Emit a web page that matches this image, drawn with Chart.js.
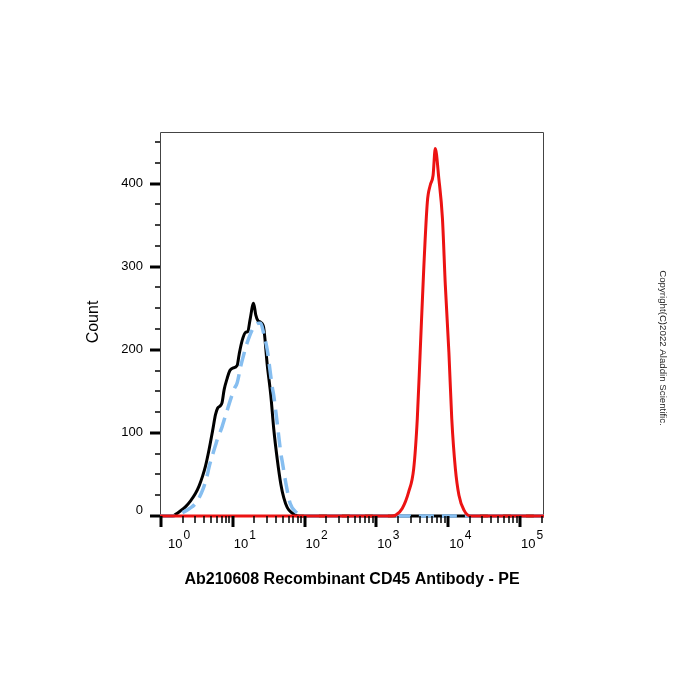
<!DOCTYPE html>
<html>
<head>
<meta charset="utf-8">
<script src="https://cdn.jsdelivr.net/npm/chart.js@4.4.1/dist/chart.umd.min.js"></script>
<style>
  html, body { margin: 0; padding: 0; background: #fff; }
  #wrap { width: 700px; height: 700px; }
</style>
</head>
<body>
<div id="wrap"><canvas id="chart" width="700" height="700"></canvas></div>
<script>
// Histogram data (x = fluorescence, y = count)
const blackX = [0.97, 1.45, 1.6, 1.86, 2.19, 2.57, 3.02, 3.39, 3.8, 4.17, 4.68, 5.25, 5.75, 6.17, 6.61, 7.08, 7.59, 8.32, 9.12, 10.0, 11.5, 12.3, 13.5, 15.1, 16.2, 17.4, 19.5, 20.9, 22.4, 24.5, 26.9, 30.2, 33.9, 37.2, 41.7, 46.8, 51.3, 57.5, 66.1, 74.1, 83.2, 216000];
const blackY = [0, 0, 2, 6, 11, 18, 27, 36, 48, 60, 80, 103, 122, 130, 132, 136, 152, 165, 175, 178, 181, 195, 211, 221, 222, 236, 256, 242, 235, 233, 227, 182, 145, 105, 68, 38, 22, 10, 4, 1, 0, 0];

const blueX = [0.97, 1.5, 2.0, 2.5, 3.02, 3.8, 4.47, 4.68, 5.75, 6.03, 7.08, 7.94, 10.5, 11.5, 12.9, 14.1, 15.8, 19.5, 22.9, 24.5, 26.9, 30.2, 35.5, 37.2, 41.7, 46.8, 49.0, 55.0, 63.1, 79.4, 89.1, 216000];
const blueY = [0, 0, 4, 9, 15, 31, 51, 59, 85, 91, 107, 121, 153, 160, 180, 193, 208, 227, 232, 232, 220, 200, 155, 145, 111, 75, 65, 39, 15, 3, 0, 0];

const redX = [0.97, 1620, 1862, 2291, 2818, 3311, 3715, 4074, 4571, 5129, 5623, 6166, 6607, 7413, 8318, 9120, 10233, 11220, 12589, 14125, 16596, 20417, 216000];
const redY = [0, 0, 1, 9, 29, 57, 117, 197, 298, 378, 398, 410, 442, 406, 358, 278, 197, 117, 57, 25, 7, 0, 0];

// Axis ticks
const xTickExponents = [0, 1, 2, 3, 4, 5];
const yTickLabels = [0, 100, 200, 300, 400];
const yMinorStep = 25;

const xTitle = 'Ab210608 Recombinant CD45 Antibody - PE';
const yTitle = 'Count';
const copyrightText = 'Copyright(C)2022 Aladdin Scientific.';

const fontFamily = '"Liberation Sans", Arial, Helvetica, sans-serif';

function toPoints(xs, ys) {
  return xs.map((x, i) => ({ x: x, y: ys[i] }));
}

// Frame, ticks and texts are drawn by hand (FlowJo style axes)
const flowAxes = {
  id: 'flowAxes',
  beforeDatasetsDraw(chart) {
    const ctx = chart.ctx;
    const a = chart.chartArea;
    ctx.save();
    ctx.strokeStyle = '#444';
    ctx.lineWidth = 1;
    ctx.beginPath();
    ctx.moveTo(a.left + 0.5, a.bottom);
    ctx.lineTo(a.left + 0.5, a.top + 0.5);
    ctx.lineTo(a.right - 0.5, a.top + 0.5);
    ctx.lineTo(a.right - 0.5, a.bottom);
    ctx.stroke();
    ctx.strokeStyle = '#000';
    ctx.lineWidth = 2;
    ctx.beginPath();
    ctx.moveTo(a.left, a.bottom);
    ctx.lineTo(a.right, a.bottom);
    ctx.stroke();
    ctx.restore();
  },
  afterDraw(chart) {
    const ctx = chart.ctx;
    const a = chart.chartArea;
    const xs = chart.scales.x;
    const ys = chart.scales.y;
    ctx.save();
    ctx.strokeStyle = '#000';
    ctx.fillStyle = '#000';

    // y ticks
    for (let v = 0; v <= ys.max; v += yMinorStep) {
      const py = Math.round(ys.getPixelForValue(v));
      const major = yTickLabels.indexOf(v) >= 0;
      ctx.lineWidth = major ? 3 : 1.5;
      ctx.beginPath();
      ctx.moveTo(a.left - (major ? 10 : 5), py);
      ctx.lineTo(a.left, py);
      ctx.stroke();
    }
    ctx.font = '13px ' + fontFamily;
    ctx.textAlign = 'right';
    ctx.textBaseline = 'middle';
    yTickLabels.forEach(v => {
      const py = Math.min(ys.getPixelForValue(v), a.bottom - 6);
      ctx.fillText(String(v), a.left - 17, py);
    });

    // x ticks (log decades + minors)
    xTickExponents.forEach(n => {
      for (let k = 1; k <= 9; k++) {
        const v = k * Math.pow(10, n);
        if (v < xs.min || v > xs.max) continue;
        const px = Math.round(xs.getPixelForValue(v));
        const major = k === 1;
        ctx.lineWidth = major ? 3 : 1.5;
        ctx.beginPath();
        ctx.moveTo(px, a.bottom);
        ctx.lineTo(px, a.bottom + (major ? 11 : 7));
        ctx.stroke();
      }
    });
    ctx.textAlign = 'left';
    ctx.textBaseline = 'alphabetic';
    xTickExponents.forEach(n => {
      const px = xs.getPixelForValue(Math.pow(10, n));
      const left = Math.max(px + 1, a.left + 8);
      ctx.font = '13px ' + fontFamily;
      ctx.fillText('10', left, a.bottom + 32);
      const w = ctx.measureText('10').width;
      ctx.font = '12px ' + fontFamily;
      ctx.fillText(String(n), left + w + 1, a.bottom + 23);
    });

    // axis titles
    ctx.font = 'bold 16px ' + fontFamily;
    ctx.textAlign = 'center';
    ctx.textBaseline = 'middle';
    ctx.fillText(xTitle, (a.left + a.right) / 2, 580);

    ctx.save();
    ctx.font = '16px ' + fontFamily;
    ctx.translate(94, (a.top + a.bottom) / 2 - 2);
    ctx.rotate(-Math.PI / 2);
    ctx.fillText(yTitle, 0, 0);
    ctx.restore();

    // copyright, rotated clockwise
    ctx.save();
    ctx.font = '9.7px ' + fontFamily;
    ctx.fillStyle = '#222';
    ctx.translate(663, 348);
    ctx.rotate(Math.PI / 2);
    ctx.fillText(copyrightText, 0, 0);
    ctx.restore();

    ctx.restore();
  }
};

const ctx = document.getElementById('chart').getContext('2d');

const data = {
  datasets: [
    {
      label: 'Isotype',
      data: toPoints(blackX, blackY),
      borderColor: '#000000',
      borderWidth: 3,
      order: 2
    },
    {
      label: 'Unstained',
      data: toPoints(blueX, blueY),
      borderColor: '#86bef0',
      borderWidth: 3.5,
      borderDash: [15, 8],
      order: 1
    },
    {
      label: 'CD45 PE',
      data: toPoints(redX, redY),
      borderColor: '#ec1313',
      borderWidth: 3,
      order: 0
    }
  ]
};

const config = {
  type: 'line',
  data: data,
  plugins: [flowAxes],
  options: {
    responsive: false,
    animation: false,
    devicePixelRatio: 1,
    layout: { padding: { left: 160, right: 156, top: 132, bottom: 184 } },
    elements: {
      point: { radius: 0 },
      line: { cubicInterpolationMode: 'monotone', fill: false }
    },
    datasets: { line: { clip: false } },
    scales: {
      x: { type: 'logarithmic', min: 0.97, max: 216000, display: false },
      y: { type: 'linear', min: 0, max: 462, display: false }
    },
    plugins: {
      legend: { display: false },
      tooltip: { enabled: false },
      title: { display: false }
    }
  }
};

new Chart(ctx, config);
</script>
</body>
</html>
